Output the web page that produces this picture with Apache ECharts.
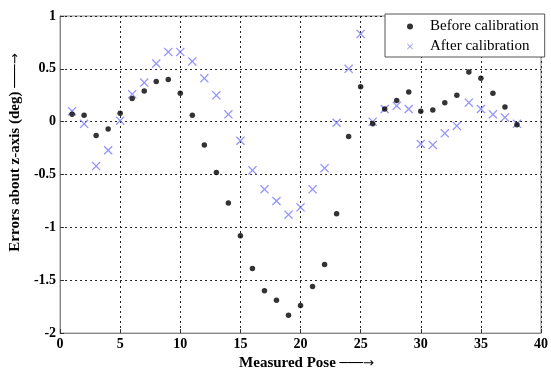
<!DOCTYPE html>
<html>
<head>
<meta charset="utf-8">
<script src="https://cdn.jsdelivr.net/npm/echarts@6/dist/echarts.min.js"></script>
<style>
  html, body { margin: 0; padding: 0; background: #fff; }
  #chart { width: 551px; height: 376px; }
</style>
</head>
<body>
<div id="chart"></div>
<script>
// measured pose index 1..38
var poses = [];
for (var i = 1; i <= 38; i++) poses.push(i);

var beforeCal = [0.07, 0.06, -0.13, -0.07, 0.08, 0.22, 0.29, 0.38, 0.40, 0.27,
  0.06, -0.22, -0.48, -0.77, -1.08, -1.39, -1.60, -1.69, -1.83, -1.74,
  -1.56, -1.35, -0.87, -0.14, 0.33, -0.02, 0.12, 0.20, 0.28, 0.10,
  0.11, 0.18, 0.25, 0.47, 0.41, 0.27, 0.14, -0.03];

var afterCal = [0.10, -0.02, -0.42, -0.27, 0.01, 0.26, 0.37, 0.55, 0.66, 0.66,
  0.57, 0.41, 0.25, 0.07, -0.18, -0.46, -0.64, -0.75, -0.88, -0.81,
  -0.64, -0.44, -0.01, 0.50, 0.83, 0.00, 0.12, 0.15, 0.12, -0.21,
  -0.22, -0.11, -0.04, 0.18, 0.12, 0.07, 0.04, -0.02];

function pairs(vals) {
  return poses.map(function (p, i) { return [p, vals[i]]; });
}

var serif = "'Liberation Serif', 'DejaVu Serif', serif";
var crossPath = 'path://M0,1L1,0L5,4L9,0L10,1L6,5L10,9L9,10L5,6L1,10L0,9L4,5Z';
var arrowRich = { arr: { fontFamily: "'DejaVu Sans'", fontSize: 13, fontWeight: 'normal', color: '#000' } };

var myChart = echarts.init(document.getElementById('chart'));
myChart.setOption({
  animation: false,
  textStyle: { fontFamily: serif },
  grid: {
    left: 59, right: 6, top: 16, bottom: 38,
    show: true, borderColor: '#888', borderWidth: 1
  },
  legend: {
    left: 385, top: 14,
    orient: 'vertical',
    backgroundColor: '#fff',
    borderColor: '#555', borderWidth: 1,
    padding: [5, 6, 3, 22],
    itemGap: 5,
    itemWidth: 30, itemHeight: 6,
    textStyle: { fontFamily: serif, fontSize: 15, color: '#000' },
    data: [
      { name: 'Before calibration', icon: 'circle', itemStyle: { color: '#000' } },
      { name: 'After calibration', icon: crossPath, itemStyle: { color: '#7878ff' } }
    ]
  },
  xAxis: {
    type: 'value', min: 0, max: 40, interval: 5,
    name: 'Measured Pose {arr|\u2500\u2500\u2500\u2192}',
    nameLocation: 'middle', nameGap: 22,
    nameTextStyle: { fontFamily: serif, fontWeight: 'bold', fontSize: 15, color: '#000',
      padding: [0, 0, 0, 12], rich: arrowRich },
    axisLine: { onZero: false, lineStyle: { color: '#888' } },
    axisTick: { inside: true, length: 4, lineStyle: { color: '#333' } },
    axisLabel: { fontFamily: serif, fontWeight: 'bold', fontSize: 14, color: '#000', margin: 4 },
    splitLine: { show: true, lineStyle: { color: '#222', type: [2, 3] } }
  },
  yAxis: {
    type: 'value', min: -2, max: 1, interval: 0.5,
    name: 'Errors about z-axis (deg) {arr|\u2500\u2500\u2500\u2192}',
    nameLocation: 'middle', nameGap: 33,
    nameTextStyle: { fontFamily: serif, fontWeight: 'bold', fontSize: 15, color: '#000',
      padding: [0, 0, 0, 44], rich: arrowRich },
    axisLine: { show: true, onZero: false, lineStyle: { color: '#888' } },
    axisTick: { show: true, inside: true, length: 4, lineStyle: { color: '#333' } },
    axisLabel: { fontFamily: serif, fontWeight: 'bold', fontSize: 14, color: '#000', margin: 4 },
    splitLine: { show: true, lineStyle: { color: '#222', type: [2, 3] } }
  },
  series: [
    {
      name: 'Before calibration',
      type: 'scatter',
      symbol: 'circle',
      symbolSize: 5.5,
      itemStyle: { color: '#000' },
      data: pairs(beforeCal),
      z: 3
    },
    {
      name: 'After calibration',
      type: 'scatter',
      symbol: crossPath,
      symbolSize: 9,
      itemStyle: { color: '#7878ff' },
      data: pairs(afterCal),
      z: 2
    }
  ]
});
</script>
</body>
</html>
